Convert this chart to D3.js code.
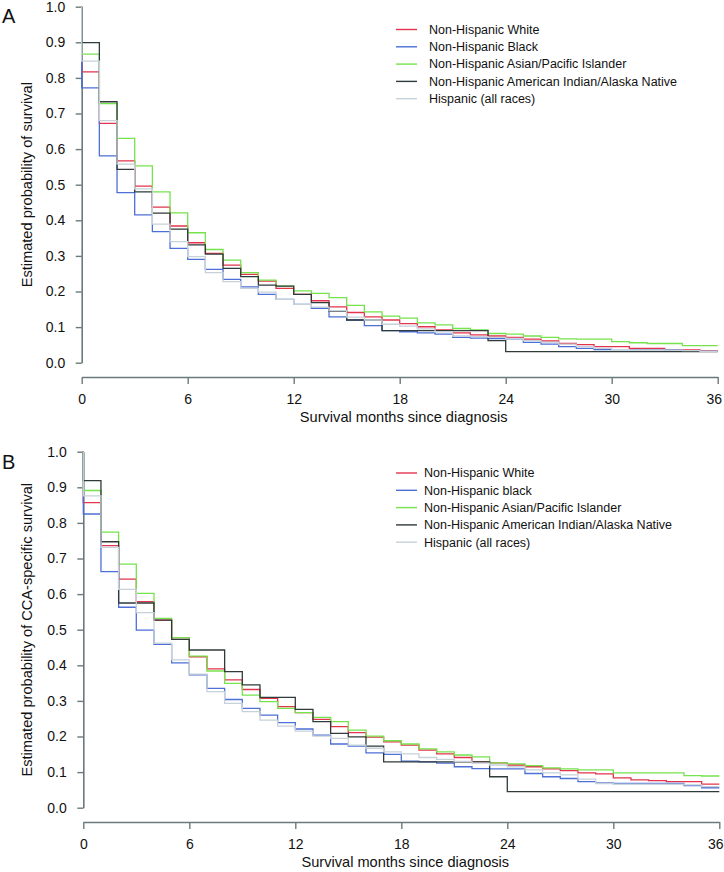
<!DOCTYPE html>
<html><head><meta charset="utf-8">
<script src="https://cdn.jsdelivr.net/npm/d3@7"></script>
<style>
html,body{margin:0;padding:0;background:#fff;}
svg{display:block;font-family:"Liberation Sans",Arial,Helvetica,sans-serif;}
</style></head>
<body><svg id="chart" width="724" height="872"></svg>
<script>
// ---- data ----
const xTicks = [0, 6, 12, 18, 24, 30, 36];
const yTicks = [0, 0.1, 0.2, 0.3, 0.4, 0.5, 0.6, 0.7, 0.8, 0.9, 1.0];
const seriesColors = ["#e2344c", "#4d6fd6", "#76e24c", "#2f3a3a", "#c6d1da"];
const legendA = ["Non-Hispanic White", "Non-Hispanic Black", "Non-Hispanic Asian/Pacific Islander", "Non-Hispanic American Indian/Alaska Native", "Hispanic (all races)"];
const legendB = ["Non-Hispanic White", "Non-Hispanic black", "Non-Hispanic Asian/Pacific Islander", "Non-Hispanic American Indian/Alaska Native", "Hispanic (all races)"];

// Panel A: overall survival, monthly intervals 0..35
const whiteA = [0.817,0.672,0.567,0.496,0.437,0.384,0.337,0.307,0.274,0.248,0.229,0.209,0.192,0.174,0.157,0.141,0.129,0.120,0.110,0.101,0.092,0.084,0.078,0.075,0.071,0.066,0.061,0.054,0.051,0.045,0.045,0.040,0.040,0.037,0.036,0.033];
const blackA = [0.772,0.581,0.478,0.415,0.368,0.321,0.290,0.262,0.234,0.213,0.192,0.178,0.164,0.153,0.129,0.120,0.104,0.090,0.087,0.084,0.080,0.071,0.069,0.068,0.067,0.057,0.052,0.045,0.040,0.037,0.037,0.037,0.037,0.036,0.034,0.032];
const asianA = [0.867,0.728,0.630,0.553,0.480,0.421,0.365,0.318,0.288,0.253,0.232,0.215,0.202,0.195,0.183,0.161,0.143,0.131,0.125,0.112,0.106,0.096,0.092,0.082,0.080,0.075,0.071,0.067,0.066,0.066,0.059,0.056,0.054,0.054,0.048,0.048];
const aianA  = [0.899,0.733,0.543,0.480,0.420,0.375,0.331,0.305,0.265,0.242,0.218,0.215,0.192,0.169,0.145,0.120,0.120,0.090,0.090,0.090,0.090,0.090,0.090,0.062,0.031,0.031,0.031,0.031,0.031,0.031,0.031,0.031,0.031,0.031,0.031,0.031];
const hispA  = [0.847,0.680,0.558,0.488,0.389,0.340,0.298,0.253,0.228,0.209,0.198,0.178,0.164,0.156,0.146,0.128,0.120,0.108,0.103,0.095,0.087,0.075,0.073,0.071,0.068,0.062,0.058,0.052,0.045,0.040,0.037,0.036,0.036,0.035,0.034,0.032];

// Panel B: CCA-specific survival
const whiteB = [0.857,0.736,0.642,0.579,0.527,0.473,0.424,0.390,0.359,0.332,0.307,0.284,0.267,0.248,0.228,0.211,0.198,0.185,0.176,0.162,0.151,0.141,0.129,0.126,0.120,0.115,0.109,0.104,0.098,0.095,0.084,0.078,0.076,0.073,0.073,0.066];
const blackB = [0.825,0.663,0.563,0.499,0.459,0.407,0.373,0.335,0.304,0.279,0.260,0.239,0.221,0.204,0.179,0.173,0.154,0.150,0.131,0.129,0.125,0.115,0.110,0.109,0.109,0.096,0.087,0.082,0.073,0.070,0.068,0.068,0.068,0.068,0.062,0.056];
const asianB = [0.891,0.774,0.684,0.602,0.532,0.478,0.426,0.384,0.349,0.316,0.298,0.279,0.267,0.254,0.242,0.218,0.201,0.188,0.179,0.165,0.157,0.148,0.143,0.126,0.123,0.118,0.112,0.109,0.106,0.106,0.098,0.098,0.098,0.098,0.090,0.089];
const aianB  = [0.919,0.747,0.575,0.575,0.527,0.473,0.443,0.443,0.382,0.345,0.310,0.310,0.276,0.242,0.209,0.199,0.173,0.129,0.129,0.129,0.129,0.129,0.129,0.087,0.045,0.045,0.045,0.045,0.045,0.045,0.045,0.045,0.045,0.045,0.045,0.045];
const hispB  = [0.876,0.731,0.613,0.548,0.462,0.415,0.375,0.326,0.293,0.270,0.246,0.229,0.215,0.201,0.195,0.176,0.167,0.157,0.151,0.141,0.136,0.130,0.125,0.120,0.115,0.106,0.098,0.092,0.080,0.068,0.066,0.066,0.066,0.066,0.064,0.059];

const axisColor = "#6b7a7a";
const svg = d3.select("#chart");

function drawPanel(cfg) {
  const x = d3.scaleLinear().domain([0, 36]).range([cfg.x0, cfg.x1]);
  const y = d3.scaleLinear().domain([0, 1]).range([cfg.y0, cfg.y1]);
  const g = svg.append("g");

  // y axis
  const ya = g.append("g").attr("transform", `translate(${cfg.x0},0)`)
    .call(d3.axisLeft(y).tickValues(yTicks).tickFormat(d3.format(".1f")).tickSize(6).tickSizeOuter(0).tickPadding(10.5));
  // x axis (offset below)
  const xa = g.append("g").attr("transform", `translate(0,${cfg.xAxisY})`)
    .call(d3.axisBottom(x).tickValues(xTicks).tickSize(7).tickSizeOuter(0).tickPadding(10));
  [ya, xa].forEach(a => {
    a.select(".domain").attr("stroke", axisColor).attr("stroke-width", 1.6);
    a.selectAll(".tick line").attr("stroke", axisColor).attr("stroke-width", 1.4);
    a.selectAll(".tick text").attr("fill", "#111").style("font-size", "14px")
      .style("font-family", '"Liberation Sans",Arial,sans-serif');
  });
  xa.selectAll(".tick text").filter(d => d === 36).attr("dx", "-4");

  // curves
  const line = d3.line().x(d => x(d[0])).y(d => y(d[1])).curve(d3.curveStepAfter);
  cfg.series.forEach((s, k) => {
    const pts = [[0, 1]];
    s.forEach((v, i) => pts.push([i, v]));
    pts.push([36, s[s.length - 1]]);
    g.append("path").datum(pts).attr("d", line)
      .attr("fill", "none").attr("stroke", seriesColors[k]).attr("stroke-width", 1.3);
  });

  // legend
  cfg.legend.forEach((lab, k) => {
    const yy = cfg.legY + k * 17.3;
    g.append("line").attr("x1", 396).attr("x2", 417).attr("y1", yy).attr("y2", yy)
      .attr("stroke", seriesColors[k]).attr("stroke-width", 1.4);
    g.append("text").attr("x", cfg.legTextX).attr("y", yy).attr("dy", "0.35em")
      .style("font-size", "12.5px").attr("fill", "#111").text(lab);
  });

  // titles
  g.append("text").attr("x", (cfg.x0 + cfg.x1) / 2 + 4).attr("y", cfg.xTitleY)
    .attr("text-anchor", "middle").style("font-size", "14.6px").attr("fill", "#111")
    .text("Survival months since diagnosis");
  g.append("text").attr("transform", `translate(${cfg.yTitleX},${(cfg.y0 + cfg.y1) / 2}) rotate(-90)`)
    .attr("text-anchor", "middle").style("font-size", "14.6px").attr("fill", "#111")
    .text(cfg.yTitle);
  g.append("text").attr("x", 2).attr("y", cfg.letterY).style("font-size", "20px")
    .attr("fill", "#111").text(cfg.letter);
}

drawPanel({
  x0: 81.7, x1: 717.7, y0: 362.7, y1: 6.7, xAxisY: 377,
  series: [whiteA, blackA, asianA, aianA, hispA], legend: legendA,
  legY: 29.5, legTextX: 429, xTitleY: 422, yTitleX: 32,
  yTitle: "Estimated probability of survival", letter: "A", letterY: 23
});
drawPanel({
  x0: 83.3, x1: 719.3, y0: 807.7, y1: 451.7, xAxisY: 822,
  series: [whiteB, blackB, asianB, aianB, hispB], legend: legendB,
  legY: 473, legTextX: 424, xTitleY: 867, yTitleX: 32,
  yTitle: "Estimated probability of CCA-specific survival", letter: "B", letterY: 469
});
</script>
</body></html>
